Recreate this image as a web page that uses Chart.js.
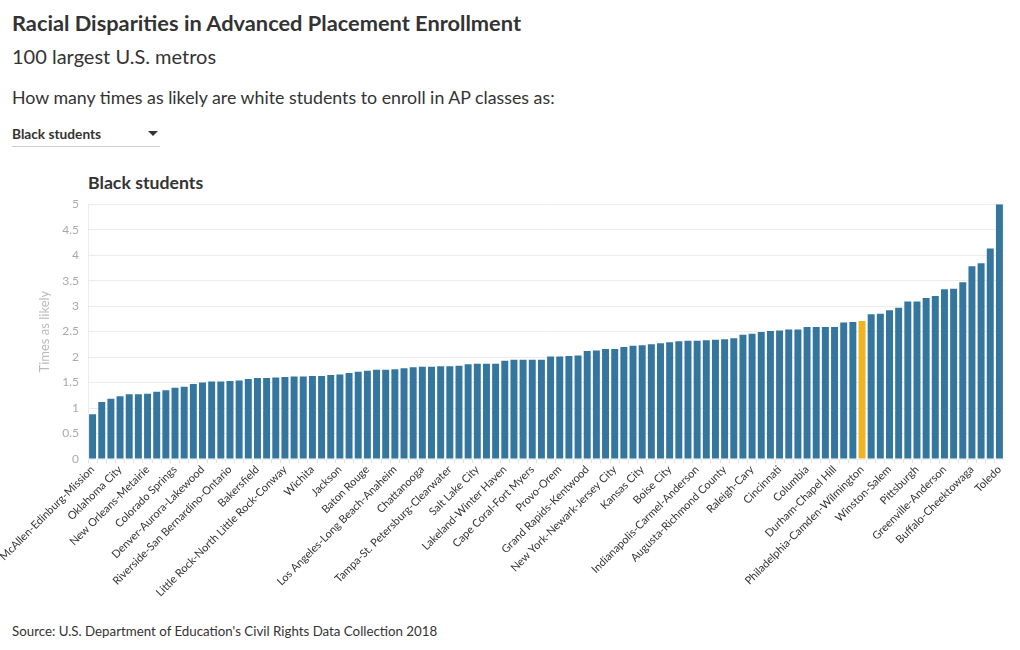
<!DOCTYPE html>
<html lang="en">
<head>
<meta charset="UTF-8">
<title>Racial Disparities in Advanced Placement Enrollment</title>
<script src="https://cdn.jsdelivr.net/npm/chart.js"></script>
<style>
  body { margin: 0; background: #fff; font-family: Lato, "Noto Sans", sans-serif; color: #333; }
  .wrap { position: relative; width: 1020px; height: 650px; overflow: hidden; }
  .t { position: absolute; left: 12px; white-space: nowrap; }
  #title { top: 9px; font-size: 21.8px; font-weight: 700; }
  #sub { top: 44px; font-size: 20px; }
  #question { top: 86px; font-size: 17.8px; }
  #dropdown { top: 125px; width: 148px; height: 21px; font-size: 13.7px; font-weight: 700; border-bottom: 1px solid #ccc; }
  #dropdown .arrow { position: absolute; right: 2px; top: 6px; width: 0; height: 0;
    border-left: 5px solid transparent; border-right: 5px solid transparent; border-top: 5px solid #333; }
  #chartTitle { top: 172px; left: 88px; font-size: 17.7px; font-weight: 700; }
  #source { top: 623px; font-size: 13.3px; }
  #box { position: absolute; left: 0; top: 188px; width: 1004px; height: 411px; }
</style>
</head>
<body>
<div class="wrap">
  <div class="t" id="title">Racial Disparities in Advanced Placement Enrollment</div>
  <div class="t" id="sub">100 largest U.S. metros</div>
  <div class="t" id="question">How many times as likely are white students to enroll in AP classes as:</div>
  <div class="t" id="dropdown">Black students<span class="arrow"></span></div>
  <div class="t" id="chartTitle">Black students</div>
  <div id="box">
    <canvas id="myChart"></canvas>
  </div>
  <div class="t" id="source">Source: U.S. Department of Education's Civil Rights Data Collection 2018</div>
</div>

<script>
// metros, sorted by ratio (only every third name is shown on the axis)
const metros = [
  'McAllen-Edinburg-Mission', 'El Paso', 'Albuquerque',
  'Oklahoma City', 'Tucson', 'Fresno',
  'New Orleans-Metairie', 'Stockton', 'Las Vegas-Henderson-Paradise',
  'Colorado Springs', 'San Antonio-New Braunfels', 'Oxnard-Thousand Oaks-Ventura',
  'Denver-Aurora-Lakewood', 'Urban Honolulu', 'Phoenix-Mesa-Chandler',
  'Riverside-San Bernardino-Ontario', 'Sacramento-Roseville-Folsom', 'Tulsa',
  'Bakersfield', 'Memphis', 'Houston-The Woodlands-Sugar Land',
  'Little Rock-North Little Rock-Conway', 'Orlando-Kissimmee-Sanford', 'Deltona-Daytona Beach-Ormond Beach',
  'Wichita', 'San Diego-Chula Vista-Carlsbad', 'Miami-Fort Lauderdale-Pompano Beach',
  'Jackson', 'Dallas-Fort Worth-Arlington', 'Spokane-Spokane Valley',
  'Baton Rouge', 'Austin-Round Rock-Georgetown', 'Ogden-Clearfield',
  'Los Angeles-Long Beach-Anaheim', 'Palm Bay-Melbourne-Titusville', 'Jacksonville',
  'Chattanooga', 'Portland-Vancouver-Hillsboro', 'Seattle-Tacoma-Bellevue',
  'Tampa-St. Petersburg-Clearwater', 'North Port-Sarasota-Bradenton', 'Birmingham-Hoover',
  'Salt Lake City', 'Knoxville', 'Charleston-North Charleston',
  'Lakeland-Winter Haven', 'San Jose-Sunnyvale-Santa Clara', 'Louisville/Jefferson County',
  'Cape Coral-Fort Myers', 'Atlanta-Sandy Springs-Alpharetta', 'Omaha-Council Bluffs',
  'Provo-Orem', 'Virginia Beach-Norfolk-Newport News', 'Nashville-Davidson-Murfreesboro-Franklin',
  'Grand Rapids-Kentwood', 'Des Moines-West Des Moines', 'Washington-Arlington-Alexandria',
  'New York-Newark-Jersey City', 'San Francisco-Oakland-Berkeley', 'Charlotte-Concord-Gastonia',
  'Kansas City', 'Boston-Cambridge-Newton', 'Greensboro-High Point',
  'Boise City', 'Richmond', 'St. Louis',
  'Indianapolis-Carmel-Anderson', 'Baltimore-Columbia-Towson', 'Columbus',
  'Augusta-Richmond County', 'Chicago-Naperville-Elgin', 'Detroit-Warren-Dearborn',
  'Raleigh-Cary', 'Providence-Warwick', 'Dayton-Kettering',
  'Cincinnati', 'Minneapolis-St. Paul-Bloomington', 'Hartford-East Hartford-Middletown',
  'Columbia', 'Madison', 'Albany-Schenectady-Troy',
  'Durham-Chapel Hill', 'Allentown-Bethlehem-Easton', 'Worcester',
  'Philadelphia-Camden-Wilmington', 'Harrisburg-Carlisle', 'Milwaukee-Waukesha',
  'Winston-Salem', 'Scranton-Wilkes-Barre', 'Cleveland-Elyria',
  'Pittsburgh', 'New Haven-Milford', 'Bridgeport-Stamford-Norwalk',
  'Greenville-Anderson', 'Poughkeepsie-Newburgh-Middletown', 'Syracuse',
  'Buffalo-Cheektowaga', 'Akron', 'Rochester',
  'Toledo'
];

// how many times as likely white students are to enroll in AP classes as Black students
const ratios = [
  0.88, 1.12, 1.18, 1.23, 1.27, 1.27, 1.28, 1.32, 1.35, 1.40,
  1.42, 1.47, 1.50, 1.52, 1.52, 1.53, 1.54, 1.57, 1.59, 1.59,
  1.60, 1.61, 1.62, 1.62, 1.63, 1.63, 1.65, 1.66, 1.69, 1.71,
  1.73, 1.75, 1.75, 1.76, 1.78, 1.80, 1.81, 1.81, 1.82, 1.82,
  1.83, 1.86, 1.87, 1.87, 1.87, 1.93, 1.95, 1.95, 1.95, 1.95,
  2.01, 2.01, 2.02, 2.03, 2.12, 2.13, 2.16, 2.16, 2.20, 2.22,
  2.23, 2.25, 2.27, 2.29, 2.31, 2.32, 2.32, 2.33, 2.34, 2.35,
  2.37, 2.44, 2.46, 2.49, 2.51, 2.52, 2.54, 2.54, 2.59, 2.59,
  2.59, 2.59, 2.68, 2.69, 2.71, 2.84, 2.85, 2.92, 2.97, 3.09,
  3.09, 3.16, 3.20, 3.33, 3.34, 3.47, 3.78, 3.84, 4.13, 5.00
];

const highlight = 'Philadelphia-Camden-Wilmington';

const barColors = metros.map(m => m === highlight ? '#f0b323' : '#35769e');

const config = {
  type: 'bar',
  data: {
    labels: metros,
    datasets: [{
      label: 'Black students',
      data: ratios,
      backgroundColor: barColors,
      barPercentage: 0.76,
      categoryPercentage: 1
    }]
  },
  options: {
    responsive: true,
    maintainAspectRatio: false,
    animation: false,
    layout: { padding: { left: 37, top: 0, right: 0, bottom: 0 } },
    plugins: {
      legend: { display: false },
      tooltip: { enabled: false }
    },
    scales: {
      x: {
        grid: { drawOnChartArea: false, drawTicks: true, tickLength: 4, color: '#dde3ea' },
        border: { display: false },
        ticks: {
          autoSkip: false,
          maxRotation: 45,
          minRotation: 45,
          padding: 0,
          color: '#333',
          font: { family: 'Lato', size: 11 },
          // only every third metro gets a name, like the original
          callback: function (val, i) { return i % 3 === 0 ? this.getLabelForValue(val) : ''; }
        },
        afterFit: function (scale) {
          scale.height = 140;
          scale.paddingLeft = 0;
          scale.paddingRight = 0;
        }
      },
      y: {
        min: 0,
        max: 5,
        grid: { color: '#ececec', drawTicks: false },
        border: { display: true, color: '#ececec' },
        ticks: {
          stepSize: 0.5,
          color: '#aaa',
          padding: 9,
          font: { family: 'Lato', size: 12 },
          callback: v => String(+v.toFixed(1))
        },
        title: { display: true, text: 'Times as likely', color: '#bbb', font: { family: 'Lato', size: 13 }, padding: 0 },
        afterFit: function (scale) { scale.width = 51; }
      }
    }
  }
};

const myChart = new Chart(document.getElementById('myChart'), config);
</script>
</body>
</html>
